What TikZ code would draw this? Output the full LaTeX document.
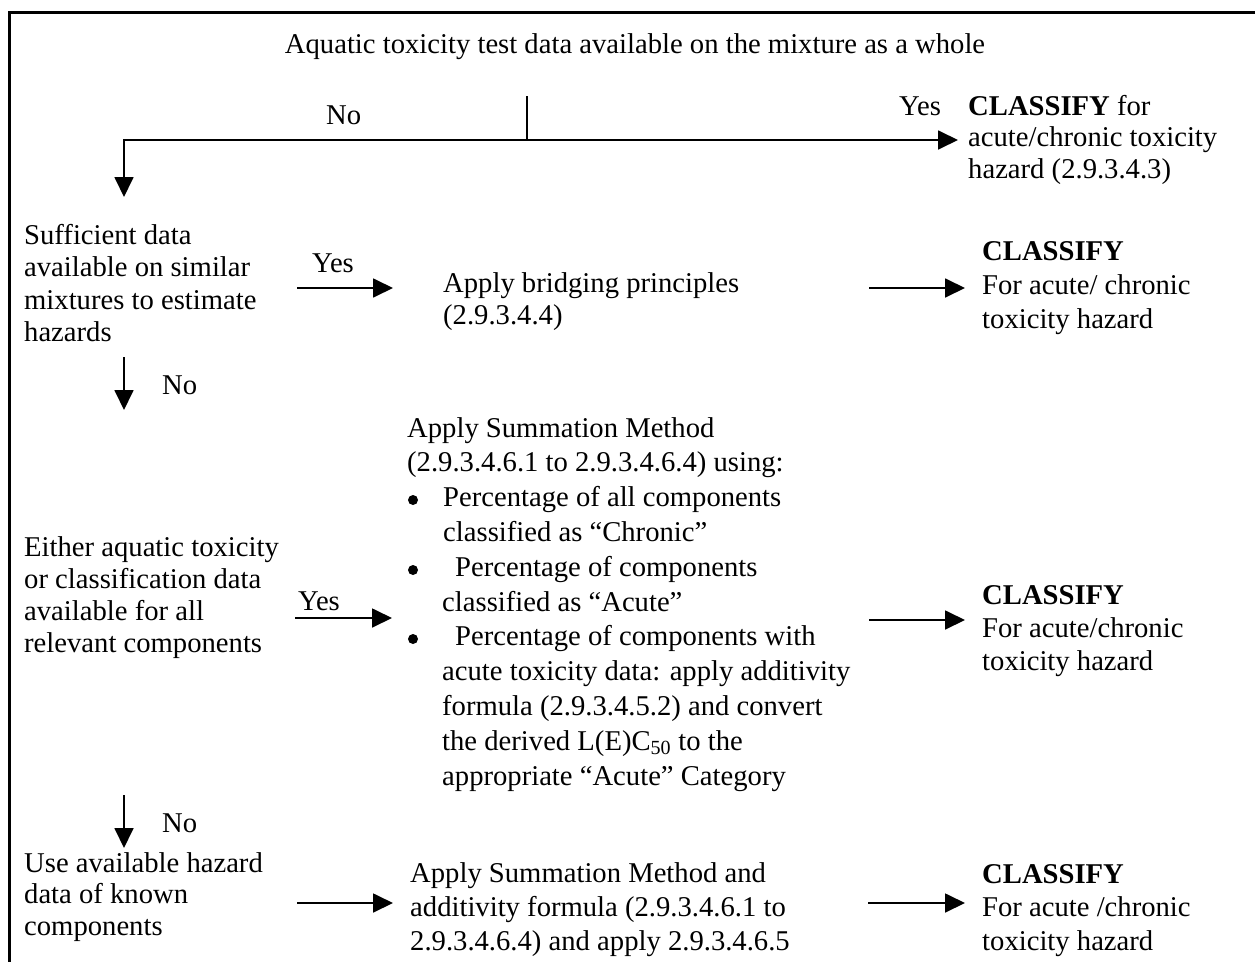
\documentclass[tikz,border=0pt]{standalone}
\usepackage{fontspec}
\setmainfont{Liberation Serif}
\usetikzlibrary{arrows.meta}
\newcommand{\blk}[2]{{\fontsize{28.65pt}{#1pt}\selectfont\begin{tabular}[t]{@{}l@{}}#2\end{tabular}}}
\tikzset{
  txt/.style={inner sep=0pt, anchor=base west, font=\fontsize{28.65pt}{32pt}\selectfont},
  ln/.style={line width=1.8pt},
  arr/.style={line width=1.8pt, -{Triangle[length=20pt,width=19pt]}},
  frame/.style={line width=3pt},
  dot/.style={fill=black}
}
\begin{document}
\begin{tikzpicture}[x=1pt,y=-1pt]
\useasboundingbox (0,0) rectangle (1255,961);
\draw[frame] (9.5,965) -- (9.5,12.5) -- (1260,12.5);

% title and first split
\node[txt, anchor=base] (title) at (635,53) {Aquatic toxicity test data available on the mixture as a whole};
\coordinate (top) at (527,96);
\coordinate (split) at (527,140);
\coordinate (noA) at (124,197);
\coordinate (yesA) at (958,140);
\draw[ln] (top) -- (split);
\draw[arr] (split) -| (noA);
\draw[arr] (split) -- (yesA);
\node[txt] (no1) at (326,124) {No};
\node[txt] (yes1) at (899,115) {Yes};
\node[txt] (c1) at (968,115) {\blk{31.5}{\textbf{CLASSIFY} for\\acute/chronic toxicity\\hazard (2.9.3.4.3)}};

% row 2
\node[txt] (q2) at (24,244) {\blk{32.5}{Sufficient data\\available on similar\\mixtures to estimate\\hazards}};
\coordinate (q2a) at (297,288);
\coordinate (m2a) at (393,288);
\draw[arr] (q2a) -- (m2a);
\node[txt] (yes2) at (312,272) {Yes};
\node[txt] (m2) at (443,292) {\blk{32}{Apply bridging principles\\(2.9.3.4.4)}};
\coordinate (m2b) at (869,288);
\coordinate (c2a) at (965,288);
\draw[arr] (m2b) -- (c2a);
\node[txt] (c2) at (982,260) {\blk{34}{\textbf{CLASSIFY}\\For acute/ chronic\\toxicity hazard}};

\coordinate (no2s) at (124,357);
\coordinate (no2e) at (124,410);
\draw[arr] (no2s) -- (no2e);
\node[txt] (no2) at (162,394) {No};

% row 3
\node[txt] (q3) at (24,556) {\blk{32}{Either aquatic toxicity\\or classification data\\available for all\\relevant components}};
\coordinate (q3a) at (295,618);
\coordinate (m3a) at (392,618);
\draw[arr] (q3a) -- (m3a);
\node[txt] (yes3) at (298,610) {Yes};
\node[txt] (m3) at (407,437) {\blk{34.8}{Apply Summation Method\\
(2.9.3.4.6.1 to 2.9.3.4.6.4) using:\\
\hspace*{36pt}Percentage of all components\\
\hspace*{36pt}classified as “Chronic”\\
\hspace*{48pt}Percentage of components\\
\hspace*{35pt}classified as “Acute”\\
\hspace*{48pt}Percentage of components with\\
\hspace*{35pt}acute toxicity data: apply additivity\\
\hspace*{35pt}formula (2.9.3.4.5.2) and convert\\
\hspace*{35pt}the derived L(E)C\textsubscript{50} to the\\
\hspace*{35pt}appropriate “Acute” Category}};
\fill[dot] (413,500) circle (5pt);
\fill[dot] (413,570) circle (5pt);
\fill[dot] (413,639) circle (5pt);
\coordinate (m3b) at (869,620);
\coordinate (c3a) at (965,620);
\draw[arr] (m3b) -- (c3a);
\node[txt] (c3) at (982,604) {\blk{33}{\textbf{CLASSIFY}\\For acute/chronic\\toxicity hazard}};

\coordinate (no3s) at (124,795);
\coordinate (no3e) at (124,848);
\draw[arr] (no3s) -- (no3e);
\node[txt] (no3) at (162,832) {No};

% row 4
\node[txt] (q4) at (24,872) {\blk{31.5}{Use available hazard\\data of known\\components}};
\coordinate (q4a) at (297,903);
\coordinate (m4a) at (393,903);
\draw[arr] (q4a) -- (m4a);
\node[txt] (m4) at (410,882) {\blk{34}{Apply Summation Method and\\additivity formula (2.9.3.4.6.1 to\\2.9.3.4.6.4) and apply 2.9.3.4.6.5}};
\coordinate (m4b) at (868,903);
\coordinate (c4a) at (965,903);
\draw[arr] (m4b) -- (c4a);
\node[txt] (c4) at (982,883) {\blk{33.5}{\textbf{CLASSIFY}\\For acute /chronic\\toxicity hazard}};
\end{tikzpicture}
\end{document}
